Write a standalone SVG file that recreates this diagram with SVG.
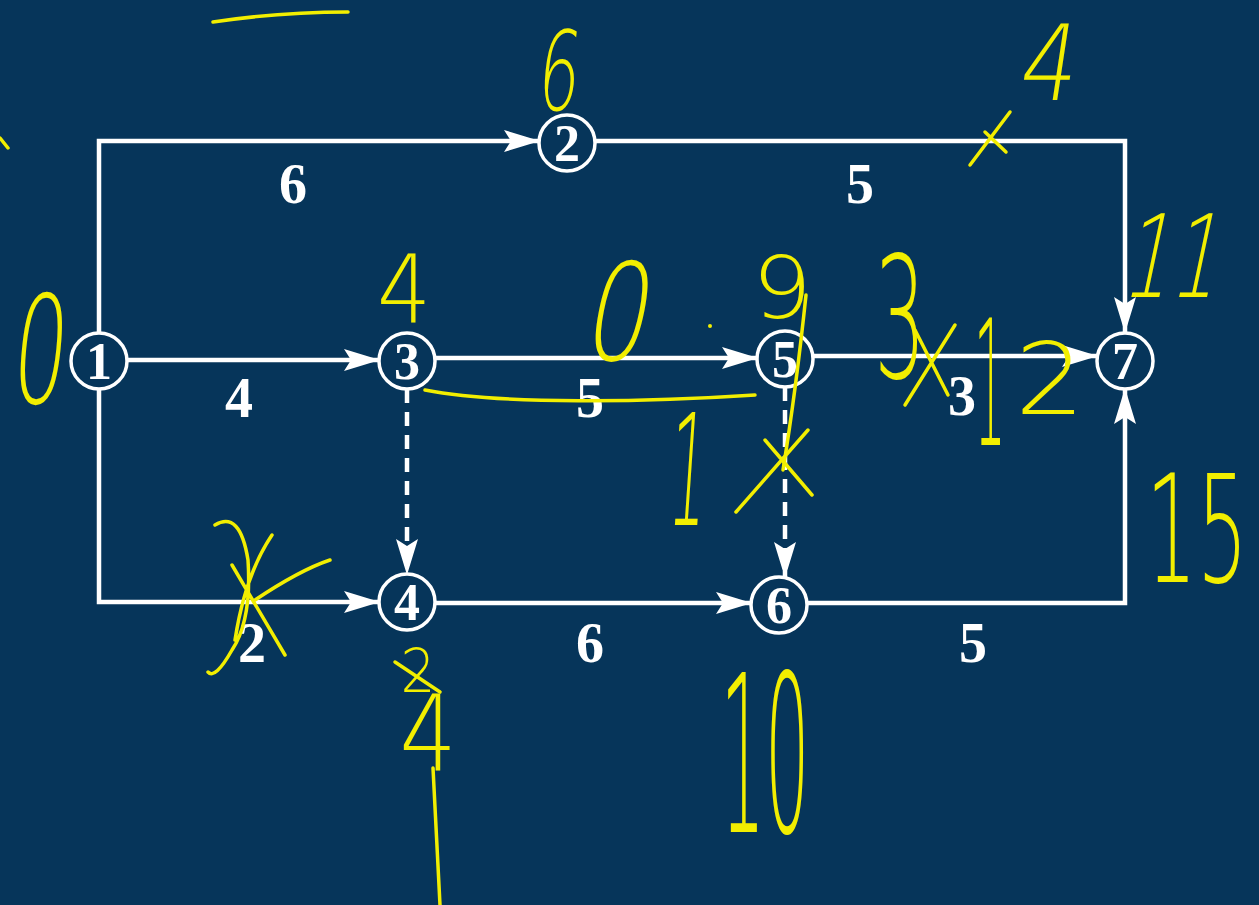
<svg xmlns="http://www.w3.org/2000/svg" width="1259" height="905" viewBox="0 0 1259 905">
<style>
.bg{fill:#06355A}
.edge{stroke:#fff;stroke-width:4.5;fill:none}
.dash{stroke-dasharray:14 9}
.node circle{fill:#06355A;stroke:#fff;stroke-width:3.5}
.node text{font-family:"Liberation Serif",serif;font-size:52px;font-weight:bold;fill:#fff;text-anchor:middle}
.lbl{font-family:"Liberation Serif",serif;font-size:56px;font-weight:bold;fill:#fff;text-anchor:middle}
.hw{font-family:"DejaVu Sans",sans-serif;font-weight:200;font-size:100px;fill:#F2EE00;text-anchor:middle}
.hs{stroke:#F2EE00;stroke-width:3.5;fill:none;stroke-linecap:round;stroke-linejoin:round}
</style>
<defs>
<marker id="ah" viewBox="0 0 36 24" refX="35" refY="12" markerWidth="36" markerHeight="24" markerUnits="userSpaceOnUse" orient="auto">
<path d="M0,1 L36,12 L0,23 L7,12 z" fill="#fff"/>
</marker>
</defs>
<rect class="bg" x="0" y="0" width="1259" height="905"/>

<g id="connectors">
<path class="edge" d="M99,333 V141 H539" marker-end="url(#ah)"/>
<path class="edge" d="M595,141 H1125 V332" marker-end="url(#ah)"/>
<path class="edge" d="M127,360 H379" marker-end="url(#ah)"/>
<path class="edge" d="M435,358 H757" marker-end="url(#ah)"/>
<path class="edge" d="M813,356 H1097" marker-end="url(#ah)"/>
<path class="edge" d="M99,389 V602 H379" marker-end="url(#ah)"/>
<path class="edge" d="M435,603 H751" marker-end="url(#ah)"/>
<path class="edge" d="M807,603 H1125 V389" marker-end="url(#ah)"/>
<path class="edge dash" d="M407,389 V574" marker-end="url(#ah)"/>
<path class="edge dash" d="M785,387 V577" marker-end="url(#ah)"/>
<text class="lbl" x="293" y="203">6</text>
<text class="lbl" x="860" y="203">5</text>
<text class="lbl" x="239" y="417">4</text>
<text class="lbl" x="590" y="417">5</text>
<text class="lbl" x="962" y="415">3</text>
<text class="lbl" x="252" y="662">2</text>
<text class="lbl" x="590" y="662">6</text>
<text class="lbl" x="973" y="662">5</text>
</g>

<g id="n1" class="node"><circle cx="99" cy="361" r="28"/><text x="99" y="379">1</text></g>
<g id="n2" class="node"><circle cx="567" cy="143" r="28"/><text x="567" y="161">2</text></g>
<g id="n3" class="node"><circle cx="407" cy="361" r="28"/><text x="407" y="379">3</text></g>
<g id="n4" class="node"><circle cx="407" cy="602" r="28"/><text x="407" y="620">4</text></g>
<g id="n5" class="node"><circle cx="785" cy="359" r="28"/><text x="785" y="377">5</text></g>
<g id="n6" class="node"><circle cx="779" cy="605" r="28"/><text x="779" y="623">6</text></g>
<g id="n7" class="node"><circle cx="1125" cy="361" r="28"/><text x="1125" y="379">7</text></g>

<g id="handwriting">
<text class="hw" transform="translate(36,403) scale(0.85,1.5) skewX(-10)">0</text>
<text class="hw" transform="translate(556,110) scale(0.65,1.1) skewX(-10)">6</text>
<text class="hw" transform="translate(1045,100) scale(0.9,1.05) skewX(-10)">4</text>
<text class="hw" transform="translate(404,322) scale(0.85,0.95)">4</text>
<text class="hw" transform="translate(612,360) scale(1.0,1.35) skewX(-15)">0</text>
<text class="hw" transform="translate(782,318) scale(0.95,0.85)">9</text>
<path class="hs" d="M806,295 Q796,390 783,470"/>
<text class="hw" transform="translate(900,378) scale(0.8,1.7)">3</text>
<text class="hw" transform="translate(990,445) scale(0.5,1.75)">1</text>
<text class="hw" transform="translate(1050,414) scale(1.1,1.0)">2</text>
<text class="hw" transform="translate(1168,297) scale(0.75,1.15) skewX(-18)">11</text>
<text class="hw" transform="translate(685,525) scale(0.6,1.55) skewX(-10)">1</text>
<text class="hw" transform="translate(1197,582) scale(0.8,1.5)">15</text>
<text class="hw" transform="translate(418,692) scale(0.55,0.6)">2</text>
<text class="hw" transform="translate(428,770) scale(0.9,1.05)">4</text>
<text class="hw" transform="translate(765,832) scale(0.7,2.2)">10</text>
<path class="hs" d="M213,22 Q280,12 348,12"/>
<path class="hs" d="M0,138 L8,148"/>
<path class="hs" d="M970,165 L1010,112 M985,132 L1006,152"/>
<path class="hs" d="M905,405 L955,325 M915,330 L948,395"/>
<path class="hs" d="M736,512 L808,430 M765,440 L812,495"/>
<path class="hs" d="M425,390 C500,405 650,402 755,395"/>
<path class="hs" d="M215,525 Q240,510 248,560 Q252,620 232,650 Q215,680 208,672 M232,565 L285,655 M272,535 Q245,575 235,640 M255,600 Q300,570 330,560"/>
<path class="hs" d="M395,662 L440,692"/>
<path class="hs" d="M433,768 L440,905"/>
<circle cx="710" cy="326" r="2" fill="#F2EE00"/>
</g>
</svg>
